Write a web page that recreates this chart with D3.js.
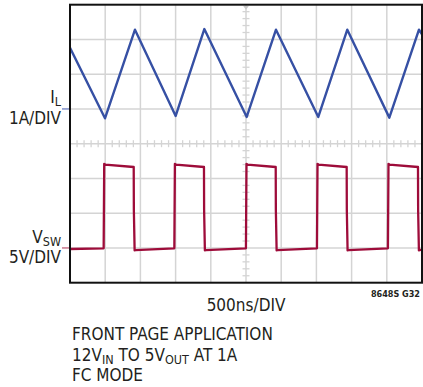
<!DOCTYPE html>
<html>
<head>
<meta charset="utf-8">
<script src="https://cdn.jsdelivr.net/npm/d3@7"></script>
<style>
  html, body { margin: 0; padding: 0; background: #fff; }
  svg { display: block; }
  text { font-family: "DejaVu Sans Condensed", "Liberation Sans", sans-serif; fill: #231f20; }
</style>
</head>
<body>
<script>
// ---------- data ----------
// time axis ticks (ns), 500 ns per division
const timeTicks = [0, 500, 1000, 1500, 2000, 2500, 3000, 3500, 4000, 4500, 5000];
const divTicks = [-4, -3, -2, -1, 0, 1, 2, 3, 4];
const minorTimeTicks = [100,200,300,400,600,700,800,900,1100,1200,1300,1400,1600,1700,1800,1900,2100,2200,2300,2400,2600,2700,2800,2900,3100,3200,3300,3400,3600,3700,3800,3900,4100,4200,4300,4400,4600,4700,4800,4900];
const minorDivTicks = [-3.8,-3.6,-3.4,-3.2,-2.8,-2.6,-2.4,-2.2,-1.8,-1.6,-1.4,-1.2,-0.8,-0.6,-0.4,-0.2,0.2,0.4,0.6,0.8,1.2,1.4,1.6,1.8,2.2,2.4,2.6,2.8,3.2,3.4,3.6,3.8];

// inductor current I_L (A) vs time (ns)
const ilTime = [0, 497, 923, 1501, 1908, 2510, 2926, 3527, 3939, 4536, 4957, 5000];
const ilAmps = [1.76, -0.27, 2.28, -0.20, 2.30, -0.23, 2.28, -0.23, 2.28, -0.25, 2.28, 2.15];

// switch node voltage V_SW (V) vs time (ns)
const vswTime = [0, 478, 486, 500, 905, 907, 918, 930,
                 1482, 1490, 1504, 1903, 1905, 1916, 1928,
                 2499, 2507, 2521, 2922, 2924, 2935, 2947,
                 3508, 3516, 3530, 3930, 3932, 3943, 3955,
                 4516, 4524, 4538, 4943, 4945, 4956, 4968, 5000];
const vswVolts = [-0.15, -0.05, 12.1, 12.0, 11.65, 5.5, -0.35, -0.3,
                  -0.05, 12.1, 12.0, 11.65, 5.5, -0.35, -0.3,
                  -0.05, 12.1, 12.0, 11.65, 5.5, -0.35, -0.3,
                  -0.05, 12.1, 12.0, 11.65, 5.5, -0.35, -0.3,
                  -0.05, 12.1, 12.0, 11.65, 5.5, -0.35, -0.3, -0.25];

const labels = {
  il: ["I", "L", "1A/DIV"],
  vsw: ["V", "SW", "5V/DIV"],
  xLabel: "500ns/DIV",
  code: "8648S G32"
};

// ---------- layout ----------
(function () {
const W = 423, H = 387;
const pL = 70, pR = 422, pT = 4.7, pB = 282.7;
const FS = 17, SFS = 12.5;

const svg = d3.select("body").append("svg").attr("width", W).attr("height", H);

const x = d3.scaleLinear().domain([0, 5000]).range([pL, pR]);
const yDiv = d3.scaleLinear().domain([-4, 4]).range([pB, pT]);
const yI = d3.scaleLinear().domain([-5, 3]).range([pB, pT]);   // 1A/DIV, 0A at +1 div
const yV = d3.scaleLinear().domain([-5, 35]).range([pB, pT]);  // 5V/DIV, 0V at -3 div

const gridColor = "#d4d4d4";
const g = svg.append("g");

// grid
g.selectAll("line.vg").data(timeTicks.slice(1, -1)).join("line")
  .attr("x1", d => x(d)).attr("x2", d => x(d)).attr("y1", pT).attr("y2", pB)
  .attr("stroke", gridColor).attr("stroke-width", 1.5);
g.selectAll("line.hg").data(divTicks.slice(1, -1)).join("line")
  .attr("y1", d => yDiv(d)).attr("y2", d => yDiv(d)).attr("x1", pL).attr("x2", pR)
  .attr("stroke", gridColor).attr("stroke-width", 1.5);

// minor ticks on center lines
const cx = x(2500), cy = yDiv(0);
g.selectAll("line.mx").data(minorTimeTicks).join("line")
  .attr("x1", d => x(d)).attr("x2", d => x(d)).attr("y1", cy - 3.5).attr("y2", cy + 3.5)
  .attr("stroke", gridColor).attr("stroke-width", 1.3);
g.selectAll("line.my").data(minorDivTicks).join("line")
  .attr("y1", d => yDiv(d)).attr("y2", d => yDiv(d)).attr("x1", cx - 3.5).attr("x2", cx + 3.5)
  .attr("stroke", gridColor).attr("stroke-width", 1.3);

// trigger marker at top
g.append("path")
  .attr("d", `M${cx - 3},${pT + 1} L${cx + 3},${pT + 1} L${cx},${pT + 5} Z`)
  .attr("fill", "#c8c8c8");

// traces
const clipId = "clip";
svg.append("clipPath").attr("id", clipId).append("rect")
  .attr("x", pL).attr("y", pT).attr("width", pR - pL).attr("height", pB - pT);

const blue = "#3650a4", red = "#9e0c3a";

const ilLine = d3.line().x((d, i) => x(ilTime[i])).y(d => yI(d));
svg.append("path").attr("d", ilLine(ilAmps))
  .attr("fill", "none").attr("stroke", blue).attr("stroke-width", 2.4)
  .attr("stroke-linejoin", "round").attr("clip-path", `url(#${clipId})`);

const vLine = d3.line().x((d, i) => x(vswTime[i])).y(d => yV(d));
svg.append("path").attr("d", vLine(vswVolts))
  .attr("fill", "none").attr("stroke", red).attr("stroke-width", 2.3)
  .attr("stroke-linejoin", "round").attr("clip-path", `url(#${clipId})`);

// ground markers
svg.append("line").attr("x1", 62).attr("x2", 69).attr("y1", yI(0)).attr("y2", yI(0))
  .attr("stroke", "#6a7cc0").attr("stroke-width", 1.3);
svg.append("line").attr("x1", 62).attr("x2", 69).attr("y1", yV(0)).attr("y2", yV(0))
  .attr("stroke", "#c0607a").attr("stroke-width", 1.3);

// border
svg.append("rect").attr("x", pL).attr("y", pT).attr("width", pR - pL).attr("height", pB - pT)
  .attr("fill", "none").attr("stroke", "#111").attr("stroke-width", 2);

// channel labels
function subLabel(xr, yb, main, sub) {
  const t = svg.append("text").attr("x", xr).attr("y", yb).attr("text-anchor", "end").attr("font-size", FS);
  t.append("tspan").text(main);
  t.append("tspan").attr("font-size", SFS).attr("dy", 3).text(sub);
}
subLabel(61, yI(0) - 6, labels.il[0], labels.il[1]);
svg.append("text").attr("x", 61).attr("y", yI(0) + 15.5).attr("text-anchor", "end").attr("font-size", FS).text(labels.il[2]);
subLabel(61, yV(0) - 5, labels.vsw[0], labels.vsw[1]);
svg.append("text").attr("x", 61).attr("y", yV(0) + 15.5).attr("text-anchor", "end").attr("font-size", FS).text(labels.vsw[2]);

// x label
svg.append("text").attr("x", x(2500)).attr("y", 310.5).attr("text-anchor", "middle").attr("font-size", FS).text(labels.xLabel);
svg.append("text").attr("x", 420).attr("y", 296.5).attr("text-anchor", "end").attr("font-size", 9)
  .attr("font-weight", "bold").attr("fill", "#333").text(labels.code);

// footnote
const fx = 72;
svg.append("text").attr("x", fx).attr("y", 340).attr("font-size", FS).text("FRONT PAGE APPLICATION");
const l2 = svg.append("text").attr("x", fx).attr("y", 360.5).attr("font-size", FS);
l2.append("tspan").text("12V");
l2.append("tspan").attr("font-size", SFS).attr("dy", 3).text("IN");
l2.append("tspan").attr("dy", -3).text(" TO 5V");
l2.append("tspan").attr("font-size", SFS).attr("dy", 3).text("OUT");
l2.append("tspan").attr("dy", -3).text(" AT 1A");
svg.append("text").attr("x", fx).attr("y", 381).attr("font-size", FS).text("FC MODE");
})();
</script>
</body>
</html>
